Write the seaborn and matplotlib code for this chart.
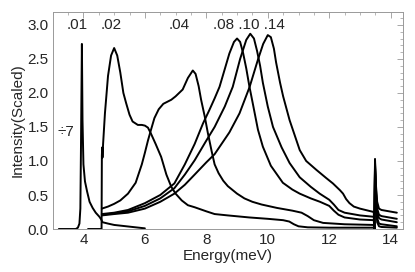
import matplotlib
matplotlib.use("Agg")
import matplotlib.pyplot as plt
import numpy as np
import pandas as pd
import seaborn as sns
from matplotlib.ticker import MultipleLocator

# curves, one pair of arrays per label (x in meV, y scaled)
e01_x = [3.2, 3.75, 3.82, 3.87, 3.9, 3.92, 3.95, 3.97, 4.0, 4.05, 4.12, 4.2, 4.3, 4.4,
         4.52, 4.58, 4.62, 4.8, 5.0, 5.5, 6.0]
e01_y = [0.0, 0.0, 0.02, 0.08, 0.3, 1.2, 2.72, 1.6, 0.95, 0.7, 0.55, 0.4, 0.31, 0.24,
         0.18, 0.14, 0.1, 0.08, 0.06, 0.035, 0.01]

e02_x = [4.15, 4.59, 4.6, 4.61, 4.62, 4.64, 4.7, 4.8, 4.9, 5.0, 5.1, 5.2, 5.3, 5.39, 5.5,
         5.6, 5.77, 5.9, 6.0, 6.1, 6.2, 6.35, 6.53, 6.7, 6.86, 7.0, 7.2, 7.4, 7.62, 8.0,
         8.27, 8.7, 9.4, 10.0, 10.5, 10.7, 10.85, 11.0, 11.3, 12.0, 13.45]
e02_y = [0.0, 0.0, 1.08, 1.2, 1.05, 1.25, 1.7, 2.25, 2.55, 2.66, 2.55, 2.3, 2.0, 1.85, 1.68,
         1.58, 1.53, 1.53, 1.52, 1.49, 1.4, 1.25, 1.06, 0.8, 0.62, 0.52, 0.42, 0.35, 0.32, 0.26,
         0.22, 0.2, 0.17, 0.15, 0.13, 0.11, 0.07, 0.04, 0.025, 0.02, 0.02]

e04_x = [4.6, 4.8, 5.0, 5.2, 5.45, 5.7, 5.9, 6.0, 6.1, 6.2, 6.31, 6.45, 6.6, 6.86, 7.0,
         7.23, 7.4, 7.56, 7.65, 7.75, 7.83, 7.95, 8.05, 8.17, 8.27, 8.4, 8.55, 8.7, 9.0,
         9.24, 9.5, 9.8, 10.3, 10.8, 11.1, 11.3, 11.5, 11.8, 12.5, 13.45]
e04_y = [0.3, 0.33, 0.37, 0.42, 0.52, 0.68, 0.95, 1.12, 1.3, 1.46, 1.63, 1.76, 1.84, 1.9, 1.95,
         2.05, 2.22, 2.33, 2.28, 2.1, 1.9, 1.65, 1.41, 1.15, 0.95, 0.82, 0.71, 0.63, 0.52,
         0.45, 0.4, 0.36, 0.31, 0.27, 0.24, 0.19, 0.13, 0.09, 0.07, 0.06]

e08_x = [4.6, 5.0, 5.45, 6.0, 6.5, 6.96, 7.3, 7.62, 7.89, 8.1, 8.27, 8.43, 8.6, 8.75, 8.9,
         9.0, 9.1, 9.2, 9.3, 9.4, 9.51, 9.68, 9.84, 10.1, 10.49, 10.8, 11.04, 11.4, 11.7,
         12.0, 12.15, 12.3, 12.5, 13.0, 13.45]
e08_y = [0.22, 0.24, 0.28, 0.38, 0.5, 0.67, 0.95, 1.25, 1.55, 1.75, 1.92, 2.09, 2.35, 2.58, 2.75,
         2.8, 2.75, 2.58, 2.36, 2.1, 1.85, 1.46, 1.21, 0.93, 0.68, 0.58, 0.52, 0.45, 0.4,
         0.34, 0.27, 0.21, 0.17, 0.14, 0.13]

e10_x = [4.6, 5.0, 5.45, 6.0, 6.5, 6.96, 7.3, 7.62, 8.0, 8.27, 8.6, 8.86, 9.1, 9.3, 9.43,
         9.55, 9.65, 9.75, 9.84, 10.0, 10.17, 10.45, 10.71, 11.04, 11.4, 11.69, 12.0, 12.15,
         12.3, 12.5, 13.0, 13.45]
e10_y = [0.21, 0.23, 0.26, 0.34, 0.45, 0.6, 0.8, 1.01, 1.3, 1.5, 1.8, 2.09, 2.5, 2.78, 2.87,
         2.8, 2.62, 2.4, 2.15, 1.8, 1.5, 1.2, 0.97, 0.76, 0.62, 0.52, 0.43, 0.36,
         0.28, 0.24, 0.2, 0.18]

e14_x = [4.6, 5.0, 5.45, 6.0, 6.5, 6.96, 7.3, 7.62, 8.0, 8.27, 8.75, 9.08, 9.41, 9.68, 9.85,
         10.0, 10.1, 10.2, 10.27, 10.4, 10.5, 10.71, 11.04, 11.25, 11.58, 11.9, 12.12, 12.35,
         12.45, 12.55, 12.66, 12.8, 13.0, 13.45]
e14_y = [0.2, 0.22, 0.24, 0.3, 0.4, 0.52, 0.65, 0.8, 0.98, 1.1, 1.42, 1.7, 2.09, 2.49, 2.72,
         2.85, 2.82, 2.65, 2.45, 2.15, 1.95, 1.6, 1.16, 1.0, 0.87, 0.75, 0.67, 0.57,
         0.52, 0.44, 0.38, 0.33, 0.3, 0.25]

# sharp feature near 13.5 meV and the short tail after it
spike_x = [13.47, 13.49, 13.52, 13.56, 13.62, 13.7, 14.2]
spike_02 = [0.0, 0.85, 0.45, 0.1, 0.04, 0.03, 0.02]
spike_04 = [0.0, 0.9, 0.5, 0.16, 0.08, 0.07, 0.04]
spike_08 = [0.0, 0.94, 0.55, 0.25, 0.16, 0.14, 0.1]
spike_10 = [0.0, 0.98, 0.6, 0.3, 0.21, 0.19, 0.15]
spike_14 = [0.0, 1.03, 0.65, 0.4, 0.3, 0.28, 0.24]

# peak labels along the top (the last three are one text in the original)
labels = [".01", ".02", ".04", ".08 .10 .14"]
label_x = [3.79, 4.91, 7.13, 9.39]

curves = {
    ".01": (e01_x, e01_y),
    ".02": (e02_x + spike_x, e02_y + spike_02),
    ".04": (e04_x + spike_x, e04_y + spike_04),
    ".08": (e08_x + spike_x, e08_y + spike_08),
    ".10": (e10_x + spike_x, e10_y + spike_10),
    ".14": (e14_x + spike_x, e14_y + spike_14),
}
frames = []
for name, (xs, ys) in curves.items():
    frames.append(pd.DataFrame({"energy": xs, "intensity": ys, "x": name}))
df = pd.concat(frames, ignore_index=True)

sns.set_style("white")
plt.rcParams['font.family'] = ['Liberation Sans', 'DejaVu Sans']

fig = plt.figure(figsize=(4.15, 2.72), dpi=100)
ax = fig.add_axes([0.127, 0.158, 0.844, 0.798])

sns.lineplot(data=df, x="energy", y="intensity", units="x", estimator=None, sort=False,
             color="black", linewidth=1.4, ax=ax)

for lab, lx in zip(labels, label_x):
    ax.text(lx, 3.0, lab, ha="center", va="center", fontsize=11)
ax.text(3.43, 1.43, "÷7", ha="center", va="center", fontsize=11)

ax.set_xlim(3.0, 14.4)
ax.set_ylim(0, 3.19)
ax.xaxis.set_major_locator(MultipleLocator(2))
ax.xaxis.set_minor_locator(MultipleLocator(0.5))
ax.yaxis.set_major_locator(MultipleLocator(0.5))
ax.yaxis.set_minor_locator(MultipleLocator(0.1))
ax.set_yticks(np.arange(0, 3.01, 0.5))
ax.tick_params(which="both", direction="in", top=True, right=True, color="#999999",
               labelsize=11, pad=3)
ax.tick_params(which="major", length=4, width=0.6)
ax.tick_params(which="minor", length=2, width=0.5)
for sp in ax.spines.values():
    sp.set_color("#999999")
    sp.set_linewidth(0.7)
ax.set_xlabel("Energy(meV)", fontsize=11, labelpad=1)
ax.set_ylabel("Intensity(Scaled)", fontsize=11, labelpad=2)

fig.savefig("out.png", dpi=100)
